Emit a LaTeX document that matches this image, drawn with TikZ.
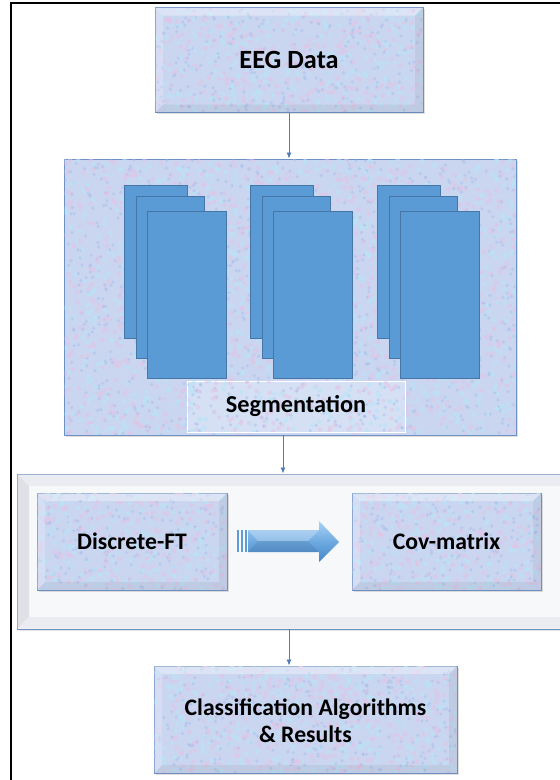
\documentclass[tikz,border=0pt]{standalone}
\usepackage{fontspec}
\setmainfont{Carlito}
\usetikzlibrary{shadows,arrows.meta}
\definecolor{texfill}{RGB}{202,213,240}
\definecolor{texedge}{RGB}{110,145,195}
\definecolor{segblue}{RGB}{91,155,213}
\definecolor{segedge}{RGB}{70,118,165}
\definecolor{panelfill}{RGB}{247,248,250}
\definecolor{panelband}{RGB}{234,236,241}
\definecolor{arrowcol}{RGB}{80,125,185}
\definecolor{labfill}{RGB}{214,224,245}
\definecolor{arrtop}{RGB}{170,210,245}
\definecolor{arrmid}{RGB}{110,170,225}
\definecolor{arrbot}{RGB}{70,135,200}
\definecolor{arrstripe}{RGB}{95,155,215}
\definecolor{dotpink}{RGB}{228,195,228}
\definecolor{dotcyan}{RGB}{185,228,246}
\definecolor{dotblue}{RGB}{170,190,235}
\tikzset{
  texbox/.style={draw=texedge, line width=1pt, fill=texfill,
    drop shadow={opacity=0.25, shadow xshift=1.5pt, shadow yshift=-1.5pt}},
  page/.style={draw=segedge, line width=0.6pt, fill=segblue},
  lbl/.style={font=\fontsize{23.7}{27}\selectfont\bfseries, text=black, align=center},
  flow/.style={draw=arrowcol, line width=0.8pt, -{Latex[length=6pt,width=5pt]}},
  bevlight/.style={fill=white, fill opacity=0.35, draw=none},
  bevdark/.style={fill=black, fill opacity=0.05, draw=none},
}
\newcommand{\bevel}[4]{% x1 y1 x2 y2
  \fill[bevlight] (#1,#2) -- (#3,#2) -- ({#3-8},{#2+8}) -- ({#1+8},{#2+8}) -- cycle;
  \fill[bevlight,fill opacity=0.2] (#1,#2) -- ({#1+8},{#2+8}) -- ({#1+8},{#4-8}) -- (#1,#4) -- cycle;
  \fill[bevdark] (#1,#4) -- ({#1+8},{#4-8}) -- ({#3-8},{#4-8}) -- (#3,#4) -- cycle;
  \fill[bevdark] (#3,#2) -- (#3,#4) -- ({#3-8},{#4-8}) -- ({#3-8},{#2+8}) -- cycle;
}
\newcommand{\texture}[5]{% x1 y1 x2 y2 count
  \begin{scope}
    \clip ({#1+0.6},{#2+0.6}) rectangle ({#3-0.6},{#4-0.6});
    \foreach \k in {1,...,#5}{
      \pgfmathsetmacro\tx{#1+rnd*(#3-#1)}
      \pgfmathsetmacro\ty{#2+rnd*(#4-#2)}
      \fill[dotpink, opacity=0.55] (\tx,\ty) circle (2.2);
      \pgfmathsetmacro\tx{#1+rnd*(#3-#1)}
      \pgfmathsetmacro\ty{#2+rnd*(#4-#2)}
      \fill[dotcyan, opacity=0.6] (\tx,\ty) circle (2.4);
      \pgfmathsetmacro\tx{#1+rnd*(#3-#1)}
      \pgfmathsetmacro\ty{#2+rnd*(#4-#2)}
      \fill[dotblue, opacity=0.5] (\tx,\ty) circle (1.8);
    }
  \end{scope}
}
\begin{document}
\begin{tikzpicture}[x=1pt,y=-1pt]
\pgfmathsetseed{12345}
\useasboundingbox (0,0) rectangle (560,780);
\clip (0,0) rectangle (560,780);
% outer frame
\draw[line width=2pt] (11,790) -- (11,3) -- (570,3);

% EEG Data
\node[texbox, minimum width=268pt, minimum height=105pt, inner sep=0pt] (eeg) at (289,60) {};
\texture{155}{7.5}{423}{112.5}{260}
\bevel{155}{7.5}{423}{112.5}
\node[lbl, font=\fontsize{26.3}{30}\selectfont\bfseries] (eegt) at (eeg.center) {EEG Data};

% Segmentation outer
\node[texbox, minimum width=452pt, minimum height=276pt, inner sep=0pt] (seg) at (290,297) {};
\texture{64}{159}{516}{435}{1000}
\foreach \dx in {0,126.5,253}{
  \draw[page] ({124+\dx},185) rectangle ({187+\dx},338);
  \draw[page] ({136+\dx},196) rectangle ({204+\dx},358);
  \draw[page] ({147+\dx},211) rectangle ({226+\dx},378);
}
\node[draw=white, line width=1pt, fill=labfill, minimum width=218pt, minimum height=51pt, inner sep=0pt] (segl) at (296,406.5) {};
\texture{187}{381}{405}{432}{90}
\node[lbl, font=\fontsize{24.3}{28}\selectfont\bfseries] (seglt) at (segl.center) {Segmentation};

% Panel
\node[draw=texedge, line width=0.8pt, fill=panelfill, minimum width=580pt, minimum height=155pt, inner sep=0pt,
  drop shadow={opacity=0.2, shadow xshift=1.5pt, shadow yshift=-1.5pt}] (panel) at (307,551.5) {};
\fill[panelband] (17.5,474.5) -- (597,474.5) -- (585,486) -- (29,486) -- cycle;
\fill[panelband!90!gray] (17.5,474.5) -- (29,486) -- (29,617) -- (17.5,628.5) -- cycle;
\fill[panelband] (17.5,628.5) -- (29,617) -- (585,617) -- (597,628.5) -- cycle;

\node[texbox, minimum width=190pt, minimum height=97pt, inner sep=0pt] (dft) at (132,541.5) {};
\texture{37}{493}{227}{590}{170}
\bevel{37}{493}{227}{590}
\node[lbl] (dftt) at (dft.center) {Discrete-FT};

\node[texbox, minimum width=189pt, minimum height=97pt, inner sep=0pt] (cov) at (446.5,541.5) {};
\texture{352}{493}{541}{590}{170}
\bevel{352}{493}{541}{590}
\node[lbl] (covt) at (cov.center) {Cov-matrix};

% block arrow
\shade[top color=arrtop, bottom color=arrbot, middle color=arrmid]
  (248,530) -- (319,530) -- (319,521) -- (339,542) -- (319,562) -- (319,552) -- (248,552) -- cycle;
\fill[white, opacity=0.25] (248,530) -- (319,530) -- (308,541) -- (258,541) -- cycle;
\fill[black, opacity=0.08] (258,541) -- (308,541) -- (319,552) -- (248,552) -- cycle;
\foreach \sx in {237,241,245}{
  \fill[arrstripe] (\sx,530) rectangle ({\sx+2.2},552);
}

% Classification
\node[texbox, minimum width=303pt, minimum height=107pt, inner sep=0pt] (cls) at (305.5,719.5) {};
\texture{154}{666}{457}{773}{300}
\bevel{154}{666}{457}{773}
\node[lbl, yshift=-1pt] (clst) at (cls.center) {Classification Algorithms\\\& Results};

% connectors
\coordinate (a2s) at (283,435);
\coordinate (a2e) at (283,473.5);
\coordinate (a3s) at (289,629);
\draw[flow] (eeg.south) -- (eeg.south |- seg.north);
\draw[flow] (a2s) -- (a2e);
\draw[flow] (a3s) -- (a3s |- cls.north);
\end{tikzpicture}
\end{document}
